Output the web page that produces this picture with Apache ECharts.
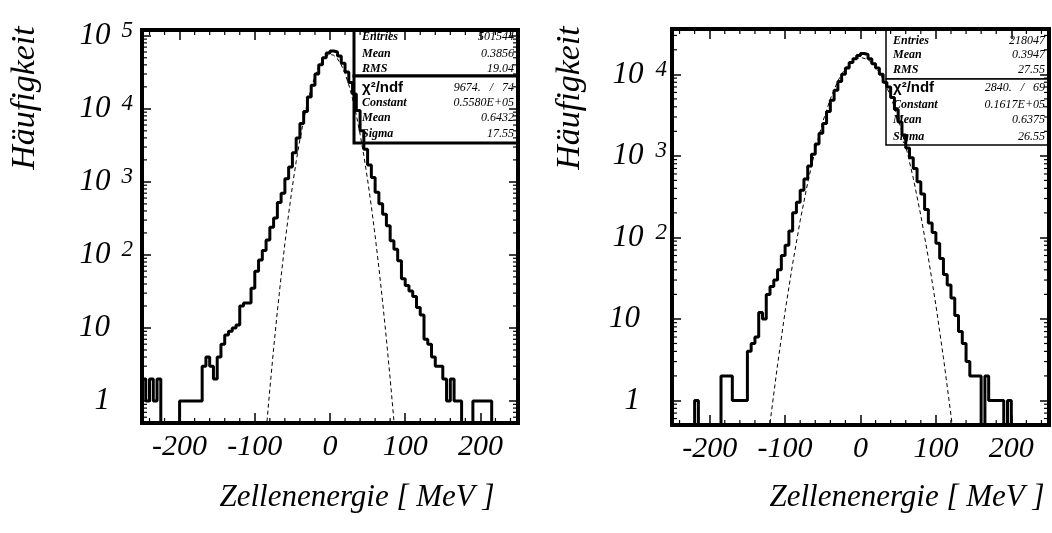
<!DOCTYPE html>
<html>
<head>
<meta charset="utf-8">
<script src="https://cdn.jsdelivr.net/npm/echarts@6.0.0/dist/echarts.min.js"></script>
<style>
html, body { margin: 0; padding: 0; background: #fff; }
#chart { width: 1052px; height: 533px; }
</style>
</head>
<body>
<div id="chart"></div>
<script>
// histogram bins: 5 MeV wide, first low edge at -250 MeV
var binLow = -250;
var binWidth = 5;

// counts per bin (left plot)
var histLeft = [
  2, 1, 2, 1, 2, 0, 0, 0, 0, 0,
  1, 1, 1, 1, 1, 1, 3, 4, 3, 2,
  4, 6, 8, 9, 10, 11, 20, 22, 22, 35,
  60, 85, 115, 160, 240, 320, 520, 700, 1100, 1600,
  2500, 4000, 6300, 9200, 14500, 21000, 30000, 40000, 50000, 58000,
  62000, 60000, 53000, 42000, 32000, 23000, 16000, 9500, 5000, 2800,
  1700, 1150, 720, 500, 360, 250, 156, 120, 83, 47,
  38, 32, 27, 19, 15, 7, 6, 4, 3, 3,
  2, 1, 2, 1, 1, 0, 0, 0, 1, 1,
  1, 1, 1, 0, 0, 0, 0, 0, 0, 0
];

// counts per bin (right plot)
var histRight = [
  0, 0, 0, 0, 0, 0, 1, 0, 0, 0,
  0, 0, 0, 2, 2, 2, 1, 1, 1, 1,
  4, 5, 6, 12, 10, 20, 25, 30, 40, 60,
  80, 120, 200, 270, 380, 520, 750, 1050, 1400, 1900,
  2500, 3500, 4800, 6400, 8200, 10000, 12000, 14000, 15500, 17000,
  18000, 17500, 15500, 13500, 12000, 10000, 8000, 7000, 5200, 3700,
  2600, 1800, 1250, 950, 700, 480, 340, 220, 150, 115,
  85, 55, 35, 26, 18, 11, 7, 5, 3, 2,
  2, 2, 0, 2, 1, 1, 1, 1, 0, 1,
  0, 0, 0, 0, 0, 0, 0, 0, 0, 0
];

// gaussian fit curves (dashed)
var fitXLeft = [-90, -85, -80, -75, -70, -65, -60, -55, -50, -45, -40, -35, -30, -25, -20, -15, -10, -5, 0,
  5, 10, 15, 20, 25, 30, 35, 40, 45, 50, 55, 60, 65, 70, 75, 80, 85, 90];
var fitLeft = [0.09, 0.38, 1.45, 5.2, 16.9, 51, 143, 366, 868, 1897, 3821, 7098, 12153, 19195, 27945, 37514, 46432, 52993, 55763,
  54104, 48402, 39925, 30366, 21293, 13772, 8208, 4512, 2287, 1069, 460, 183, 67, 22.6, 7.05, 2.02, 0.54, 0.13];

var fitXRight = [-130, -120, -110, -100, -90, -80, -70, -60, -50, -40, -30, -20, -10, 0,
  10, 20, 30, 40, 50, 60, 70, 80, 90, 100, 110, 120, 130];
var fitRight = [0.09, 0.53, 2.74, 12.3, 47.6, 160.5, 469, 1191, 2623, 5011, 8308, 11953, 14922, 16165,
  15197, 12394, 8774, 5390, 2872, 1328, 533, 185.6, 56.1, 14.7, 3.35, 0.66, 0.11];

// axis ticks
var xTickLabels = [-200, -100, 0, 100, 200];
var xMinorTicks = [-240, -220, -180, -160, -140, -120, -80, -60, -40, -20,
  20, 40, 60, 80, 120, 140, 160, 180, 220, 240];
var yDecades = [0.1, 1, 10, 100, 1000, 10000, 100000];
var yMantissas = [2, 3, 4, 5, 6, 7, 8, 9];

// statistics boxes
var statNames = ['Entries', 'Mean', 'RMS'];
var fitNames = ['\u03c7\u00b2/ndf', 'Constant', 'Mean', 'Sigma'];
var statsLeft = ['501544', '0.3856', '19.04'];
var fitLeftText = ['9674.   /   74', '0.5580E+05', '0.6432', '17.55'];
var statsRight = ['218047', '0.3947', '27.55'];
var fitRightText = ['2840.   /   69', '0.1617E+05', '0.6375', '26.55'];

var yFloor = 0.1;
var serif = '"Liberation Serif", "DejaVu Serif", serif';

var yMinorTicks = [];
yDecades.forEach(function (d) {
  yMantissas.forEach(function (m) { yMinorTicks.push(d * m); });
});

function histPoints(counts) {
  var pts = [];
  for (var i = 0; i < counts.length; i++) {
    pts.push([binLow + i * binWidth, counts[i] > 0 ? counts[i] : yFloor]);
  }
  pts.push([binLow + counts.length * binWidth, pts[pts.length - 1][1]]);
  return pts;
}

function zip(xs, ys) {
  return xs.map(function (x, i) { return [x, ys[i]]; });
}

function yLabel(v) {
  var e = Math.round(Math.log(v) / Math.LN10);
  if (e === 0) return '{c|1}';
  if (e === 1) return '{c|10}';
  return '{b|10}{s|' + e + '}';
}

function yMinorItem(params, api) {
  var cs = params.coordSys;
  var y = api.coord([0, api.value(1)])[1];
  if (y < cs.y + 2 || y > cs.y + cs.height - 2) return null;
  var st = { stroke: '#000', lineWidth: 1.2 };
  return {
    type: 'group',
    children: [
      { type: 'line', shape: { x1: cs.x, y1: y, x2: cs.x + 5, y2: y }, style: st },
      { type: 'line', shape: { x1: cs.x + cs.width, y1: y, x2: cs.x + cs.width - 5, y2: y }, style: st }
    ]
  };
}

function xMinorItem(params, api) {
  var cs = params.coordSys;
  var x = api.coord([api.value(0), 1])[0];
  var st = { stroke: '#000', lineWidth: 1.2 };
  return {
    type: 'group',
    children: [
      { type: 'line', shape: { x1: x, y1: cs.y + cs.height, x2: x, y2: cs.y + cs.height - 5 }, style: st },
      { type: 'line', shape: { x1: x, y1: cs.y, x2: x, y2: cs.y + 5 }, style: st }
    ]
  };
}

var panels = [
  {
    grid: { left: 142, top: 30, width: 376, height: 393 },
    yMax: 1.2e5, labelMargin: 9, supGap: 11, plainPad: 23, hist: histLeft, fitX: fitXLeft, fit: fitLeft,
    box: { x: 354, w: 164, y1: 30, y2: 76, y3: 143, lw: 3 },
    textX: 362, valueX: 514, rowsA: [37, 54, 69], rowsB: [88, 103, 118, 134],
    stats: statsLeft, fitText: fitLeftText,
    yTitleX: 25, xTitleX: 357
  },
  {
    grid: { left: 672, top: 29, width: 377, height: 396 },
    yMax: 3.6e4, labelMargin: 5, supGap: 12, plainPad: 27, hist: histRight, fitX: fitXRight, fit: fitRight,
    box: { x: 886, w: 163, y1: 29, y2: 79, y3: 145, lw: 1.5 },
    textX: 893, valueX: 1045, rowsA: [41, 55, 70], rowsB: [88, 105, 120, 137],
    stats: statsRight, fitText: fitRightText,
    yTitleX: 570, xTitleX: 907
  }
];

var grids = [], xAxes = [], yAxes = [], series = [], graphics = [];

panels.forEach(function (p, i) {
  grids.push(Object.assign({ show: true, borderColor: '#000', borderWidth: 4, backgroundColor: 'transparent' }, p.grid));

  var tickStyle = { color: '#000', width: 1.5 };
  var noLine = { show: false, onZero: false };
  xAxes.push({
    type: 'value', gridIndex: i, min: -250, max: 250, position: 'bottom',
    axisLine: noLine, splitLine: { show: false },
    axisTick: { inside: true, length: 10, lineStyle: tickStyle, customValues: xTickLabels },
    axisLabel: {
      customValues: xTickLabels, margin: 9, color: '#000',
      fontFamily: serif, fontStyle: 'italic', fontSize: 30
    }
  });
  xAxes.push({
    type: 'value', gridIndex: i, min: -250, max: 250, position: 'top',
    axisLine: noLine, splitLine: { show: false },
    axisTick: { inside: true, length: 10, lineStyle: tickStyle, customValues: xTickLabels },
    axisLabel: { show: false }
  });
  yAxes.push({
    type: 'log', logBase: 10, gridIndex: i, min: 0.5, max: p.yMax, position: 'left',
    axisLine: noLine, splitLine: { show: false },
    axisTick: { inside: true, length: 9, lineStyle: tickStyle },
    axisLabel: {
      showMinLabel: false, showMaxLabel: false, margin: p.labelMargin,
      formatter: yLabel,
      rich: {
        b: { fontFamily: serif, fontStyle: 'italic', fontSize: 31, color: '#000', verticalAlign: 'middle', lineHeight: 32 },
        c: { fontFamily: serif, fontStyle: 'italic', fontSize: 31, color: '#000', lineHeight: 32, padding: [0, p.plainPad, 0, 0] },
        s: { fontFamily: serif, fontStyle: 'italic', fontSize: 23, color: '#000', verticalAlign: 'top',
             lineHeight: 24, padding: [0, 0, 24, p.supGap] }
      }
    }
  });
  yAxes.push({
    type: 'log', logBase: 10, gridIndex: i, min: 0.5, max: p.yMax, position: 'right',
    axisLine: noLine, splitLine: { show: false },
    axisTick: { inside: true, length: 9, lineStyle: tickStyle },
    axisLabel: { show: false }
  });

  series.push({
    type: 'line', xAxisIndex: 2 * i, yAxisIndex: 2 * i, step: 'end', symbol: 'none',
    data: histPoints(p.hist), z: 4,
    lineStyle: { color: '#000', width: 3 }
  });
  series.push({
    type: 'line', xAxisIndex: 2 * i, yAxisIndex: 2 * i, symbol: 'none', z: 3,
    data: zip(p.fitX, p.fit),
    lineStyle: { color: '#000', width: 1, type: [4, 3] }
  });
  series.push({
    type: 'custom', xAxisIndex: 2 * i, yAxisIndex: 2 * i, renderItem: yMinorItem, z: 3,
    data: yMinorTicks.map(function (v) { return [0, v]; })
  });
  series.push({
    type: 'custom', xAxisIndex: 2 * i, yAxisIndex: 2 * i, renderItem: xMinorItem, z: 3,
    data: xMinorTicks.map(function (v) { return [v, 1]; })
  });

  // statistics boxes
  var b = p.box;
  graphics.push({ type: 'rect', z: -1, shape: { x: b.x, y: b.y1, width: b.w, height: b.y2 - b.y1 },
    style: { fill: '#fff', stroke: '#000', lineWidth: b.lw } });
  graphics.push({ type: 'rect', z: -1, shape: { x: b.x, y: b.y2, width: b.w, height: b.y3 - b.y2 },
    style: { fill: '#fff', stroke: '#000', lineWidth: b.lw } });
  statNames.forEach(function (n, k) {
    graphics.push({ type: 'text', z: -1, x: p.textX, y: p.rowsA[k],
      style: { text: n, font: 'italic bold 12px ' + serif, fill: '#000', verticalAlign: 'middle' } });
    graphics.push({ type: 'text', z: -1, x: p.valueX, y: p.rowsA[k],
      style: { text: p.stats[k], font: 'italic 12px ' + serif, fill: '#000', align: 'right', verticalAlign: 'middle' } });
  });
  fitNames.forEach(function (n, k) {
    graphics.push({ type: 'text', z: -1, x: p.textX, y: p.rowsB[k],
      style: { text: n, font: k === 0 ? 'bold 15px "Liberation Sans", sans-serif' : 'italic bold 12px ' + serif,
        fill: '#000', verticalAlign: 'middle' } });
    graphics.push({ type: 'text', z: -1, x: p.valueX, y: p.rowsB[k],
      style: { text: p.fitText[k], font: 'italic 12px ' + serif, fill: '#000', align: 'right', verticalAlign: 'middle' } });
  });

  // axis titles
  graphics.push({ type: 'text', x: p.yTitleX, y: 98, rotation: Math.PI / 2,
    style: { text: 'Häufigkeit', font: 'italic 34px ' + serif, fill: '#000', align: 'center', verticalAlign: 'middle' } });
  graphics.push({ type: 'text', x: p.xTitleX, y: 498,
    style: { text: 'Zellenenergie [ MeV ]', font: 'italic 31px ' + serif, fill: '#000', align: 'center', verticalAlign: 'middle' } });
});

var chart = echarts.init(document.getElementById('chart'));
chart.setOption({
  backgroundColor: '#fff',
  animation: false,
  grid: grids,
  xAxis: xAxes,
  yAxis: yAxes,
  series: series,
  graphic: { elements: graphics }
});
</script>
</body>
</html>
